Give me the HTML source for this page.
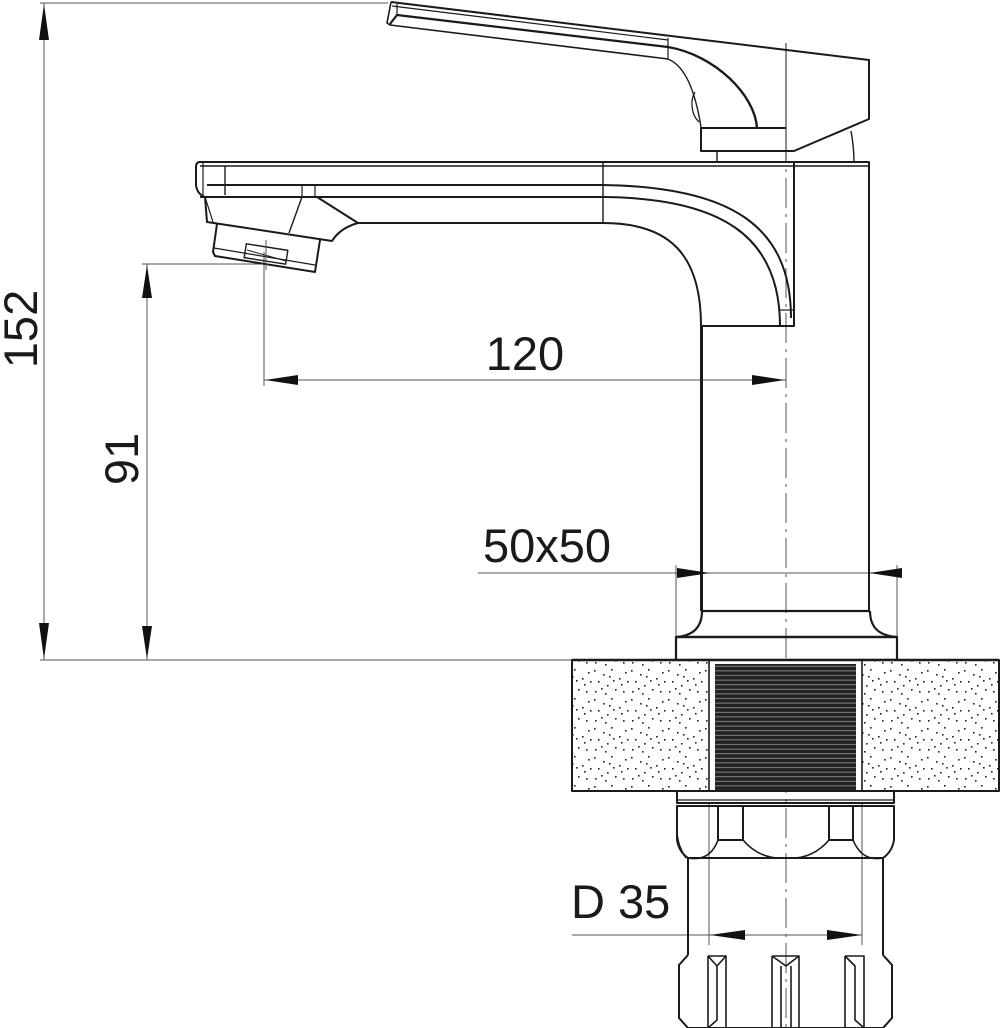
<!DOCTYPE html>
<html><head><meta charset="utf-8"><style>
html,body{margin:0;padding:0;background:#fff}
svg{display:block}
text{font-family:"Liberation Sans",Arial,sans-serif;fill:#1a1a1a}
</style></head><body>
<svg width="1001" height="1028" viewBox="0 0 1001 1028" xmlns="http://www.w3.org/2000/svg">
<defs>
<pattern id="dots" width="37" height="29" patternUnits="userSpaceOnUse">
<rect width="37" height="29" fill="#fff"/>
<g fill="#222">
<rect x="2" y="3" width="1.6" height="1.6"/><rect x="11" y="7" width="1.6" height="1.6"/><rect x="19" y="2" width="1.6" height="1.6"/>
<rect x="27" y="11" width="1.6" height="1.6"/><rect x="33" y="5" width="1.6" height="1.6"/><rect x="6" y="14" width="1.6" height="1.6"/>
<rect x="15" y="18" width="1.6" height="1.6"/><rect x="23" y="22" width="1.6" height="1.6"/><rect x="31" y="24" width="1.6" height="1.6"/>
<rect x="3" y="24" width="1.6" height="1.6"/><rect x="9" y="21" width="1.6" height="1.6"/><rect x="21" y="13" width="1.6" height="1.6"/>
<rect x="29" y="17" width="1.6" height="1.6"/><rect x="13" y="26" width="1.6" height="1.6"/><rect x="35" y="14" width="1.6" height="1.6"/>
<rect x="17" y="9" width="1.6" height="1.6"/>
</g></pattern>
<pattern id="thread" width="8" height="4.6" patternUnits="userSpaceOnUse">
<rect width="8" height="4.6" fill="#222"/><rect y="3.5" width="8" height="0.8" fill="#999"/>
</pattern>
</defs>
<g fill="none" stroke="#1a1a1a" stroke-linejoin="round">
<!-- dimension lines -->
<g stroke-width="1" stroke="#555">
<line x1="40" y1="3" x2="388" y2="3"/>
<line x1="40" y1="660" x2="572" y2="660"/>
<line x1="44" y1="3" x2="44" y2="660"/>
<line x1="142" y1="264" x2="262" y2="264"/>
<line x1="147" y1="264" x2="147" y2="660"/>
<line x1="264" y1="252" x2="264" y2="386"/>
<line x1="264" y1="380" x2="786" y2="380"/>
<line x1="478" y1="573" x2="897" y2="573"/>
<line x1="676" y1="565" x2="676" y2="637"/>
<line x1="897" y1="565" x2="897" y2="637"/>
<line x1="572" y1="935" x2="862" y2="935"/>
<line x1="709" y1="803" x2="709" y2="945"/>
<line x1="862" y1="803" x2="862" y2="945"/>
</g>
<!-- centerline -->
<line x1="786" y1="43" x2="786" y2="1028" stroke-width="1" stroke="#555" stroke-dasharray="30 6 3 6"/>
<!-- handle -->
<g stroke-width="2">
<path d="M391,2 L869,60 L869,119 L794,151 L701,151 L701,127"/>
<path d="M392,6 L668,40" stroke-width="1.2"/>
<path d="M391,2 L387,23 L390,25 L668,59" stroke-width="1.6"/>
<path d="M390,24 L397,15 L668,47" stroke-width="2.2"/>
<line x1="397" y1="4" x2="397" y2="15" stroke-width="1.2"/>
<line x1="668" y1="38" x2="668" y2="59" stroke-width="1.2"/>
<path d="M668,47 C715,55 755,95 757,128" stroke-width="2.4"/>
<path d="M668,59 C685,66 695,90 701,127" stroke-width="1.4"/>
<path d="M695,92 C690,100 691,115 699,122" stroke-width="1.2"/>
<line x1="701" y1="128" x2="786" y2="128"/>
<line x1="786" y1="43" x2="786" y2="162" stroke-width="1"/>
<line x1="717" y1="151" x2="717" y2="162" stroke-width="1.4"/>
<path d="M851,131 C853,142 854,152 854,162" stroke-width="1.4"/>
</g>
<!-- spout + body -->
<g stroke-width="2">
<path d="M200,162 L869,162 L869,611"/>
<line x1="200" y1="166" x2="869" y2="166" stroke-width="1.4"/>
<path d="M200,162 Q196,162 196,167 L196,185 Q197,194 205,197 L207,222 L332,241 Q340,228 358,223 L603,223 C670,223 701,255 701,326 L701,611"/>
<path d="M205,197 L213,222" stroke-width="1.2"/>
<line x1="207" y1="185" x2="603" y2="185"/>
<line x1="200" y1="197" x2="317" y2="197"/>
<line x1="317" y1="197" x2="603" y2="197"/>
<path d="M317,197 L358,223"/>
<line x1="203" y1="162" x2="203" y2="196" stroke-width="1.2"/>
<line x1="225" y1="166" x2="225" y2="195" stroke-width="1.4"/>
<line x1="302" y1="185" x2="302" y2="197" stroke-width="1.2"/>
<line x1="315" y1="185" x2="315" y2="197" stroke-width="1.2"/>
<path d="M302,197 L289,233" stroke-width="1.4"/>
<line x1="603" y1="162" x2="603" y2="223" stroke-width="1.4"/>
<path d="M603,185 C730,187 791,225 791,318"/>
<path d="M603,197 C720,198 780,235 780,326"/>
<path d="M701,326 L794,326 L794,162"/>
<line x1="780" y1="310" x2="794" y2="310" stroke-width="1.2"/>
<!-- aerator -->
<path d="M217,224 L213,252 L215,256 L315,272 L320,240"/>
<path d="M214,248 L315,265" stroke-width="1.2"/>
<rect x="245" y="247" width="42" height="14" transform="rotate(9 266 254)" stroke-width="1.4"/>
<path d="M247,250 L286,261" stroke-width="1"/>
<line x1="266" y1="240" x2="266" y2="270" stroke-width="1" stroke="#555"/>
</g>
<!-- base flange -->
<g stroke-width="2.2">
<line x1="702" y1="326" x2="702" y2="611" stroke-width="2"/>
<line x1="702" y1="611" x2="870" y2="611"/>
<path d="M702,611 C702,630 690,636 676,637 L897,637 C882,636 870,630 870,611"/>
<rect x="676" y="637" width="221" height="23"/>
</g>
<!-- counter -->
<rect x="572" y="660" width="427" height="131" fill="url(#dots)" stroke-width="2"/>
<rect x="709" y="660" width="153" height="131" fill="#fff" stroke="none"/>
<rect x="715" y="664" width="141" height="127" fill="url(#thread)" stroke="none"/>
<line x1="709" y1="660" x2="709" y2="791" stroke-width="1.6"/>
<line x1="862" y1="660" x2="862" y2="791" stroke-width="1.6"/>
<line x1="572" y1="660" x2="999" y2="660" stroke-width="2.4"/>
<line x1="572" y1="791" x2="999" y2="791" stroke-width="2"/>
<!-- nut -->
<g stroke-width="2">
<path d="M677,791 L677,803 L894,803 L894,791"/>
<line x1="678" y1="800" x2="893" y2="800" stroke-width="1.2"/>
<path d="M677,806 L677,840 Q679,852 688,858 L883,858 Q892,852 894,840 L894,806 Z"/>
<path d="M718,806 L718,840 M743,806 L743,840 L718,840 M829,806 L829,840 L853,840 L853,806"/>
<path d="M686,858 Q677,845 677,830 M688,858 Q710,862 718,840 M743,840 Q760,860 786,858 Q812,860 829,840 M853,840 Q862,862 883,858" stroke-width="1.6"/>
<line x1="688" y1="858" x2="688" y2="955"/>
<line x1="883" y1="858" x2="883" y2="955"/>
<path d="M688,955 L679,965 L679,1018 L688,1028 L883,1028 L892,1018 L892,965 L883,955"/>
<path d="M708,956 L726,956 L726,1028 M708,956 L708,1028 L717,1020 L717,966 L726,956 M708,956 L717,966" stroke-width="1.6"/>
<path d="M772,956 L799,956 L799,1028 M772,956 L772,1028 M772,956 L786,966 L799,956 M781,966 L781,1028 M791,966 L791,1028" stroke-width="1.6"/>
<path d="M845,956 L864,956 L864,1028 M845,956 L845,1028 M845,956 L855,966 L855,1020 L864,1028" stroke-width="1.6"/>
</g>
</g>
<!-- arrowheads -->
<g fill="#111">
<polygon points="44,4 39,40 49,40"/>
<polygon points="44,659 39,623 49,623"/>
<polygon points="147,265 142,298 152,298"/>
<polygon points="147,659 142,626 152,626"/>
<polygon points="265,380 298,375 298,385"/>
<polygon points="785,380 752,375 752,385"/>
<polygon points="710,573 677,568 677,578"/>
<polygon points="869,573 902,568 902,578"/>
<polygon points="710,935 745,930 745,940"/>
<polygon points="862,935 827,930 827,940"/>
</g>
<!-- labels -->
<text x="0" y="0" font-size="47" text-anchor="middle" transform="translate(37,329) rotate(-90)">152</text>
<text x="0" y="0" font-size="47" text-anchor="middle" transform="translate(138,459) rotate(-90)">91</text>
<text x="525" y="370" font-size="47" text-anchor="middle">120</text>
<text x="547" y="562" font-size="47" text-anchor="middle">50x50</text>
<text x="571" y="918" font-size="47">D 35</text>
</svg>
</body></html>
